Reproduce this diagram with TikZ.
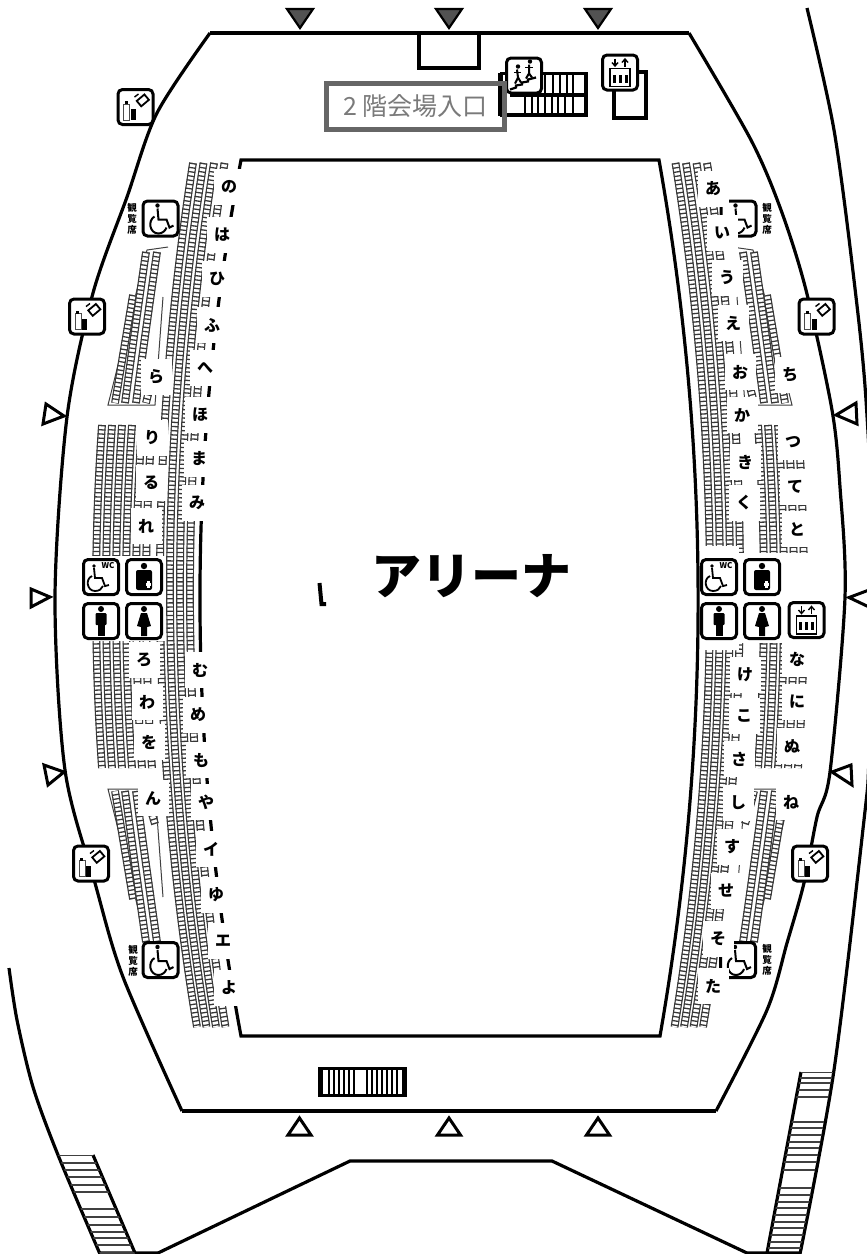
\documentclass[tikz,border=0pt]{standalone}
\usepackage{fontspec}
\usetikzlibrary{calc}
\setmainfont{Noto Sans CJK JP}
\tikzset{
  wall/.style={draw=black,line width=3.2},
  seatedge/.style={draw=black!78,line width=1.2,double=white,double distance=5.4},
  seattick/.style={draw=black!78,line width=7.4,dash pattern=on 1.3 off 2.9},
  thinline/.style={draw=black!75,line width=1},
  gateout/.style={draw=black,line width=3,fill=white,line join=miter},
  gatein/.style={draw=black,line width=2.2,fill=black!68,line join=miter},
  iconbox/.style={draw=black,line width=3,rounded corners=4.5,fill=white,minimum size=35,inner sep=0},
  seatlabel/.style={fill=white,minimum width=31,minimum height=36,inner sep=0,font=\fontsize{16}{16}\selectfont\bfseries},
  seatnote/.style={align=center,inner sep=0,font=\fontsize{9.5}{10.8}\selectfont\bfseries},
}
\newcommand{\seatcol}[3]{%
  \draw[seatedge] #1 .. controls ($#1!0.6667!#2$) and ($#3!0.6667!#2$) .. #3;
  \draw[seattick] #1 .. controls ($#1!0.6667!#2$) and ($#3!0.6667!#2$) .. #3;}
\newcommand{\wedgeblock}{%
  \draw[thinline] (168,247) -- (147,250) -- (108,405) -- (155,405) -- (163,297);
  \seatcol{(133,295)}{(124,349)}{(115,403)}
  \seatcol{(146,252)}{(135,328)}{(125,403)}
  \seatcol{(157,252)}{(146,328)}{(136,403)}
  \seatcol{(155,370)}{(150,386)}{(146,403)}}
\newcommand{\mainblock}{%
  \foreach \k in {0,1,2,3} {
    \seatcol{({193+10.5*\k},163)}{({125+10*\k},595)}{({197+9.5*\k},1027)}
  }}
\newcommand{\wheelglyph}[1]{\begin{scope}[shift={#1}]
  \fill (-3,-13) circle (2.2);
  \draw[line width=2] (-3,-10) -- (-2,1) -- (6,1) -- (9,9) -- (13,7);
  \draw[line width=2] (-6,-2) .. controls (-13,2) and (-11,15) .. (-2,15) .. controls (2,15) and (5,12) .. (6,9);
\end{scope}}
\newcommand{\wcglyph}[1]{\begin{scope}[shift={#1}]
  \fill (-7,-11) circle (1.9);
  \draw[line width=1.8] (-7,-9) -- (-6,1) -- (1,1) -- (4,9) -- (8,8);
  \draw[line width=1.8] (-9,-1) .. controls (-16,2) and (-14,14) .. (-6,14) .. controls (-2,14) and (1,12) .. (2,9);
\end{scope}}
\newcommand{\babyglyph}[1]{\begin{scope}[shift={#1}]
  \fill (0,-11) circle (3.2);
  \fill[rounded corners=2] (-8,-7) rectangle (8,13);
  \fill[white] (2,6) rectangle (7,9);
  \fill[white] (3,4) rectangle (6,11);
\end{scope}}
\newcommand{\maleglyph}[1]{\begin{scope}[shift={#1}]
  \fill (0,-12) circle (3);
  \fill[rounded corners=1] (-5.5,-8) rectangle (5.5,4);
  \fill (-3.5,4) rectangle (3.5,15);
\end{scope}}
\newcommand{\femaleglyph}[1]{\begin{scope}[shift={#1}]
  \fill (0,-12) circle (3);
  \fill (-3,-8) -- (3,-8) -- (7,5) -- (3,6) -- (3,15) -- (-3,15) -- (-3,6) -- (-7,5) -- cycle;
\end{scope}}
\newcommand{\liftglyph}[1]{\begin{scope}[shift={#1}]
  \draw[line width=1.4] (-5,-14) -- (-5,-7);
  \draw[line width=1.4] (-8,-10) -- (-5,-6.5) -- (-2,-10);
  \draw[line width=1.4] (5,-6) -- (5,-13);
  \draw[line width=1.4] (2,-10) -- (5,-13.5) -- (8,-10);
  \draw[line width=1.8] (-10,-4) rectangle (10,14);
  \foreach \x in {-6,0,6} {
    \fill (\x-1.5,2) rectangle (\x+1.5,10);
  }
\end{scope}}
\newcommand{\shopglyph}[1]{\begin{scope}[shift={#1}]
  \draw[line width=1,black!70] (-12,-3) rectangle (-6,13);
  \fill (-11,-6) rectangle (-8,-3);
  \fill (-5,2) rectangle (0,13);
  \draw[line width=1.8,rotate around={40:(7,-7)}] (2,-10) -- (12,-10) -- (12,-3) -- (2,-3) -- cycle;
  \draw[line width=1.4] (-1,-10) -- (3,-13);
\end{scope}}
\newcommand{\stairglyph}[1]{\begin{scope}[shift={#1}]
  \draw[line width=2.2] (-14,14) -- (-8,12) -- (-8,10) -- (-2,9) -- (-2,7) -- (4,6) -- (4,4) -- (12,2);
  \fill (-6,-9) circle (2.2);
  \draw[line width=2] (-7,-6) -- (-6,2) -- (-9,8);
  \draw[line width=2] (-6,2) -- (-3,7);
  \draw[line width=1.4] (-10,-3) -- (-3,-3);
  \fill (6,-14) circle (2.2);
  \draw[line width=2] (5,-11) -- (5,-2) -- (2,3);
  \draw[line width=2] (5,-2) -- (8,2);
  \draw[line width=1.4] (1,-8) -- (9,-8);
\end{scope}}

\begin{document}
\begin{tikzpicture}[x=1pt,y=-1pt]
  \clip (0,0) rectangle (867,1254);
  \fill[white] (0,0) rectangle (867,1254);
  % seats
  \mainblock
  \begin{scope}[shift={(900,0)},xscale=-1]
    \mainblock
  \end{scope}
  \wedgeblock
  \begin{scope}[shift={(900,0)},xscale=-1]
    \wedgeblock
  \end{scope}
  \begin{scope}[shift={(0,1194)},yscale=-1]
    \wedgeblock
  \end{scope}
  \begin{scope}[shift={(900,1194)},xscale=-1,yscale=-1]
    \wedgeblock
  \end{scope}
  \foreach \j in {0,1,2,3,4,5} {
    \seatcol{({102+10*\j},425)}{({90+10*\j},597)}{({102+10*\j},768)}
  }
  \foreach \j in {0,1,2,3,4} {
    \seatcol{({798-10*\j},425)}{({810-10*\j},597)}{({798-10*\j},768)}
  }
  % gaps beside the toilets
  \fill[white] (80,556) rectangle (165.5,641);
  \fill[white] (700,546) rectangle (739,650);
  \fill[white] (739,553) rectangle (832,643);
  % walls
  \draw[wall] (241,160) .. controls (186.3,452) and (186.3,744) .. (241,1036) -- (660,1036) .. controls (711,744) and (711,452) .. (659,160) -- cycle;
  \draw[wall,smooth] plot coordinates {(210,33) (157,113) (127,197) (93,293) (67,417) (55,597) (65,770) (95,883) (123,977) (182,1111)};
  \draw[wall,smooth] plot coordinates {(689,33) (751,140) (781,210) (806,290) (832,410) (840,487) (845,597) (830,772) (817,817) (804,883) (787,943) (767,1010) (716,1111)};
  \draw[wall] (210,33) -- (689,33);
  \draw[wall] (182,1111) -- (716,1111);
  \draw[black,line width=4.4] (325,33) -- (573,33);
  \draw[wall] (419,33) -- (419,68) -- (479,68) -- (479,33);
  \draw[wall,smooth] plot coordinates {(807,8) (834,130) (854,280) (866,400) (875,597) (869,760) (864,820) (834,1070) (800,1254)};
  \draw[wall,smooth] plot coordinates {(9,968) (17,1020) (33,1087) (58,1155) (100,1254)};
  \draw[wall] (100,1253) -- (158,1253) -- (350,1161) -- (552,1161) -- (747,1253) -- (799,1253);
  \draw[wall] (93,1155) -- (135,1253);
  \draw[wall] (801,1072) -- (767,1253);
  % stairs at the foot of the hall
  \begin{scope}
    \clip (58,1155) -- (93,1155) -- (135,1254) -- (100,1254) -- cycle;
    \foreach \y in {1155,1163,1170,1177,1185,1192,1209,1217,1225,1232,1238,1245,1253} {
      \draw[thinline,line width=1.6] (40,\y) -- (150,\y);
    }
  \end{scope}
  \begin{scope}
    \clip (801,1072) -- (833,1072) -- (800,1254) -- (767,1254) -- cycle;
    \foreach \y in {1072,1078,1083,1090,1097,1122,1128,1135,1142,1148,1155,1162,1170,1188,1195,1202,1208,1215,1222,1228,1235,1242,1248} {
      \draw[thinline,line width=1.4] (760,\y) -- (840,\y);
    }
  \end{scope}
  \draw[wall] (319.5,1068.5) rectangle (405.5,1095.5);
  \fill (318,1068) rectangle (323,1096);
  \fill (402,1068) rectangle (407,1096);
  \foreach \x in {329,334,339,344,349,354,367,372,377,382,387,392,397} {
    \draw[line width=1.1] (\x,1068) -- (\x,1096);
  }
  % stairs and lift shaft at the top
  \draw[wall] (500,73.5) -- (586,73.5) -- (586,115) -- (500,115);
  \draw[wall] (510,95) -- (586,95);
  \draw[black,line width=5] (500,73) -- (500,116);
  \foreach \x in {545,553,560,567,573} {
    \draw[line width=1.4] (\x,73) -- (\x,95);
  }
  \foreach \x in {525,532,538,545,552,558,565,573} {
    \draw[line width=1.4] (\x,95) -- (\x,115);
  }
  \draw[wall] (614,91) -- (614,118) -- (646,118) -- (646,72) -- (637,72);
  \draw[black,line width=4] (319.5,583) -- (321.5,604) -- (326,604);
  % gates
  \draw[gatein] (287,9) -- (313,9) -- (300,28) -- cycle;
  \draw[gatein] (436,9) -- (462,9) -- (449,28) -- cycle;
  \draw[gatein] (585,9) -- (611,9) -- (598,28) -- cycle;
  \draw[gateout] (299.5,1118) -- (311,1135) -- (288,1135) -- cycle;
  \draw[gateout] (449,1118) -- (460.5,1135) -- (437.5,1135) -- cycle;
  \draw[gateout] (598,1118) -- (609.5,1135) -- (586.5,1135) -- cycle;
  \draw[gateout] (46,404) -- (64,416) -- (43,424) -- cycle;
  \draw[gateout] (31,589) -- (50,597) -- (31,607) -- cycle;
  \draw[gateout] (44,765) -- (64,772) -- (48,785) -- cycle;
  \draw[gateout] (856,403) -- (836,415) -- (857,424) -- cycle;
  \draw[gateout] (869,590) -- (849,597.5) -- (869,607) -- cycle;
  \draw[gateout] (851,765) -- (832,772) -- (852,785) -- cycle;
  % icons
  \node[iconbox] (shopa) at (135.5,107) {};
  \node[iconbox] (shopb) at (87,316.5) {};
  \node[iconbox] (shopc) at (816.5,316.5) {};
  \node[iconbox] (shopd) at (91,863.5) {};
  \node[iconbox] (shope) at (810,863.5) {};
  \shopglyph{(shopa)}
  \shopglyph{(shopb)}
  \shopglyph{(shopc)}
  \shopglyph{(shopd)}
  \shopglyph{(shope)}
  \node[iconbox] (chaira) at (160.5,218.5) {};
  \node[iconbox] (chairb) at (160.5,960) {};
  \node[iconbox] (chairc) at (738.5,218.5) {};
  \node[iconbox] (chaird) at (738,960) {};
  \wheelglyph{(chaira)}
  \wheelglyph{(chairb)}
  \wheelglyph{(chairc)}
  \wheelglyph{(chaird)}
  \node[seatnote] (notea) at (132,219) {観\\覧\\席};
  \node[seatnote] (noteb) at (133,961) {観\\覧\\席};
  \node[seatnote] (notec) at (767,219) {観\\覧\\席};
  \node[seatnote] (noted) at (767,960) {観\\覧\\席};
  \node[iconbox] (wcl) at (101,577) {};
  \node[iconbox] (babyl) at (144,577) {};
  \node[iconbox] (malel) at (101,621) {};
  \node[iconbox] (femalel) at (144,621) {};
  \node[iconbox] (wcr) at (719,577) {};
  \node[iconbox] (babyr) at (762,577) {};
  \node[iconbox] (maler) at (719,621) {};
  \node[iconbox] (femaler) at (762,621) {};
  \wcglyph{(wcl)}
  \wcglyph{(wcr)}
  \node[inner sep=0,font=\fontsize{8}{8}\selectfont\bfseries] (wclt) at (108,566) {WC};
  \node[inner sep=0,font=\fontsize{8}{8}\selectfont\bfseries] (wcrt) at (726,566) {WC};
  \babyglyph{(babyl)}
  \babyglyph{(babyr)}
  \maleglyph{(malel)}
  \maleglyph{(maler)}
  \femaleglyph{(femalel)}
  \femaleglyph{(femaler)}
  \node[iconbox] (liftr) at (806.5,620) {};
  \node[iconbox] (lifttop) at (620,72.5) {};
  \liftglyph{(liftr)}
  \liftglyph{(lifttop)}
  \node[iconbox] (stairtop) at (524,75.5) {};
  \stairglyph{(stairtop)}
  % entrance and arena
  \node[draw=black!60,line width=4.2,fill=none,minimum width=178,minimum height=46,inner sep=0,text=black!52,font=\fontsize{25}{25}\selectfont] (entry) at (415.5,106.5) {2 階会場入口};
  \node[inner sep=0,font=\fontsize{50}{50}\selectfont\bfseries] (arena) at (471,576) {アリーナ};
  % seat labels, left side
  \node[seatlabel] (no) at (229,187) {の};
  \node[seatlabel] (ha) at (222,235) {は};
  \node[seatlabel] (hi) at (217,279) {ひ};
  \node[seatlabel] (fu) at (212,325) {ふ};
  \node[seatlabel] (he) at (205,368) {へ};
  \node[seatlabel] (ho) at (200,415) {ほ};
  \node[seatlabel] (ma) at (199,459) {ま};
  \node[seatlabel] (mi) at (197,503) {み};
  \node[seatlabel] (mu) at (200,670) {む};
  \node[seatlabel] (me) at (198,715) {め};
  \node[seatlabel] (mo) at (201,760) {も};
  \node[seatlabel] (ya) at (206,802) {や};
  \node[seatlabel] (ikana) at (211,849) {イ};
  \node[seatlabel] (yu) at (216,895) {ゆ};
  \node[seatlabel] (ekana) at (223,941) {エ};
  \node[seatlabel] (yo) at (229,988) {よ};
  \node[seatlabel] (ra) at (156,377) {ら};
  \node[seatlabel] (ri) at (152,438) {り};
  \node[seatlabel] (ru) at (151,483) {る};
  \node[seatlabel] (re) at (146,526) {れ};
  \node[seatlabel] (ro) at (144,660) {ろ};
  \node[seatlabel] (wa) at (147,702) {わ};
  \node[seatlabel] (wo) at (149,742) {を};
  \node[seatlabel] (nn) at (153,798) {ん};
  % seat labels, right side
  \node[seatlabel] (a) at (713,189) {あ};
  \node[seatlabel] (i) at (722,233) {い};
  \node[seatlabel] (u) at (727,278) {う};
  \node[seatlabel] (e) at (733,323) {え};
  \node[seatlabel] (o) at (740,372) {お};
  \node[seatlabel] (ka) at (742,415) {か};
  \node[seatlabel] (ki) at (745,462) {き};
  \node[seatlabel] (ku) at (744,503) {く};
  \node[seatlabel] (ke) at (745,675) {け};
  \node[seatlabel] (ko) at (744,716) {こ};
  \node[seatlabel] (sa) at (739,759) {さ};
  \node[seatlabel] (shi) at (738,803) {し};
  \node[seatlabel] (su) at (732,847) {す};
  \node[seatlabel] (se) at (726,891) {せ};
  \node[seatlabel] (so) at (718,939) {そ};
  \node[seatlabel] (ta) at (713,986) {た};
  \node[seatlabel] (chi) at (790,375) {ち};
  \node[seatlabel] (tsu) at (793,442) {つ};
  \node[seatlabel] (te) at (795,487) {て};
  \node[seatlabel] (to) at (797,529) {と};
  \node[seatlabel] (na) at (797,659) {な};
  \node[seatlabel] (ni) at (797,702) {に};
  \node[seatlabel] (nu) at (792,746) {ぬ};
  \node[seatlabel] (ne) at (791,802) {ね};
\end{tikzpicture}
\end{document}
